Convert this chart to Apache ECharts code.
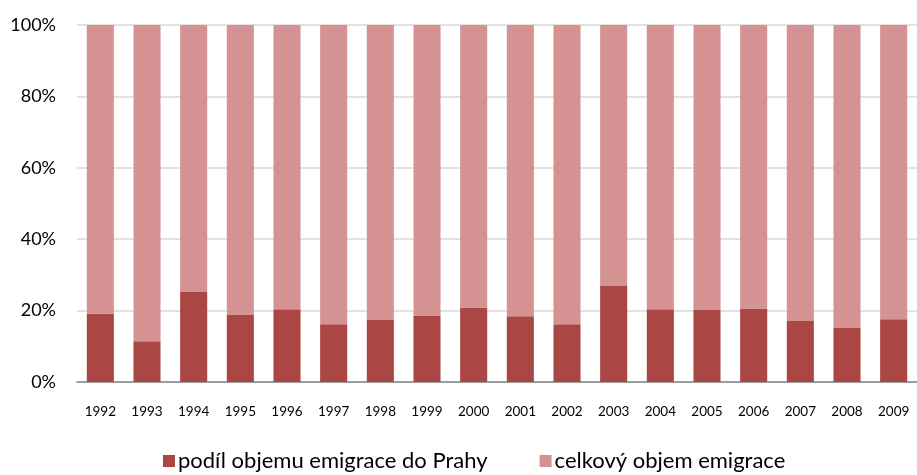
<!DOCTYPE html>
<html lang="cs">
<head>
    <meta charset="UTF-8"/>
    <title>Emigrace</title>
    <script src="https://cdn.jsdelivr.net/npm/echarts@6/dist/echarts.min.js"></script>
</head>
<body style="margin:0">
<div id="main" style="width:917px;height:475px;"></div>

<script type="text/javascript">
    // roky a podíly (v %)
    var years = ['1992','1993','1994','1995','1996','1997','1998','1999','2000',
                 '2001','2002','2003','2004','2005','2006','2007','2008','2009'];
    var praha = [19.1, 11.4, 25.2, 18.8, 20.4, 16.2, 17.4, 18.6, 20.9,
                 18.4, 16.2, 26.9, 20.4, 20.2, 20.6, 17.1, 15.1, 17.6];
    var celkem = [80.9, 88.6, 74.8, 81.2, 79.6, 83.8, 82.6, 81.4, 79.1,
                  81.6, 83.8, 73.1, 79.6, 79.8, 79.4, 82.9, 84.9, 82.4];
    var names = ['podíl objemu emigrace do Prahy', 'celkový objem emigrace'];

    var font = "Lato, 'Liberation Sans', sans-serif";
    var myChart = echarts.init(document.getElementById('main'));
    var option = {
        animation: false,
        textStyle: { fontFamily: font },
        grid: { left: 77, right: -3, top: 25, bottom: 93, containLabel: false },
        legend: {
            bottom: -2,
            left: 158,
            padding: 5,
            itemWidth: 12,
            itemHeight: 12,
            itemGap: 52,
            icon: 'rect',
            textStyle: { fontSize: 22, color: '#000', fontFamily: font, padding: [0, 0, 0, -2] },
            data: names
        },
        xAxis: {
            type: 'category',
            data: years,
            axisTick: { show: false },
            axisLine: { lineStyle: { color: '#868686', width: 1.5 } },
            axisLabel: { color: '#000', fontSize: 13.5, margin: 23 }
        },
        yAxis: {
            type: 'value',
            min: 0,
            max: 100,
            interval: 20,
            axisLabel: { formatter: '{value}%', color: '#000', fontSize: 18, margin: 21 },
            splitLine: { lineStyle: { color: '#d9d9d9', width: 1.5 } }
        },
        series: [
            {
                name: names[0],
                type: 'bar',
                stack: 'a',
                barCategoryGap: '42%',
                itemStyle: { color: '#AA4643' },
                data: praha
            },
            {
                name: names[1],
                type: 'bar',
                stack: 'a',
                itemStyle: { color: '#D49392' },
                data: celkem
            }
        ]
    };
    myChart.setOption(option);
</script>
</body>
</html>
